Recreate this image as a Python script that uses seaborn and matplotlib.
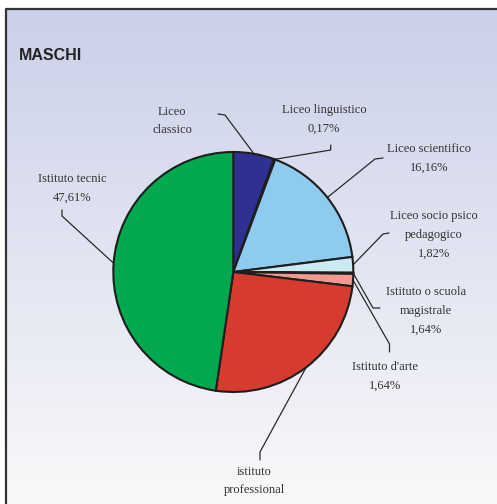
import numpy as np
import matplotlib
matplotlib.use("Agg")
import matplotlib.pyplot as plt
from matplotlib.colors import LinearSegmentedColormap
import seaborn as sns

# slice sizes (percent), clockwise from the top
categories = ["Liceo classico", "Liceo linguistico", "Liceo scientifico",
              "Liceo socio psico pedagogico", "Istituto o scuola magistrale",
              "Istituto d'arte", "istituto professional", "Istituto tecnic"]
values = [5.5, 0.17, 17.3, 2.1, 0.15, 1.65, 25.4, 47.61]
label_texts = ["Liceo\nclassico", "Liceo linguistico\n0,17%", "Liceo scientifico\n16,16%",
               "Liceo socio psico\npedagogico\n1,82%", "Istituto o scuola\nmagistrale\n1,64%",
               "Istituto d'arte\n1,64%", "istituto\nprofessional", "Istituto tecnic\n47,61%"]
colors = ["#2E3192", "#5A5FA8", "#8FCBEE", "#CBEAF4", "#E8C93A", "#F29A92", "#D73A2E", "#00A84F"]

W, H = 497, 504


def py(y):
    # pixel row (from top) -> data y
    return H - y


# label centre and leader elbow points (pixels, y from top)
label_pos = [(172, 121), (324, 119), (429, 158), (434, 235),
             (426, 311), (385, 376), (254, 481), (72, 188)]
leader_pts = [[(218, 114), (225, 115)],
              [(330.7, 145), (330.7, 150)],
              [(383, 158), (375, 159)],
              [(389, 233), (383, 234)],
              [(380, 308), (373, 308)],
              [(389.5, 352), (389.5, 344)],
              [(260, 460), (260, 452)],
              [(62, 210), (62, 216)]]


def main():
    sns.set_style("white")
    plt.rcParams['font.family'] = ['Liberation Serif', 'DejaVu Serif']

    fig = plt.figure(figsize=(W / 100, H / 100), dpi=100)
    ax = fig.add_axes([0, 0, 1, 1])

    # gradient panel + frame
    cmap = LinearSegmentedColormap.from_list("bg", ["#CBD0E9", "#F9F9FA"])
    grad = np.linspace(0, 1, 256).reshape(-1, 1)
    ax.imshow(grad, cmap=cmap, extent=(6, W, 0, py(9)), aspect='auto', zorder=0)
    ax.plot([6, 6, W], [0, py(9), py(9)], color="#333333", lw=1.6, zorder=1,
            solid_capstyle='projecting')

    cx, cy, r = 233.3, py(272), 120
    wedges, _ = ax.pie(values, colors=colors, startangle=90, counterclock=False,
                       center=(cx, cy), radius=r,
                       wedgeprops=dict(edgecolor="#1E1E1E", linewidth=1.5))
    for w in wedges:
        w.set_zorder(3)

    for w, txt, (lx, ly), pts in zip(wedges, label_texts, label_pos, leader_pts):
        mid = np.deg2rad((w.theta1 + w.theta2) / 2)
        ex, ey = cx + r * np.cos(mid), cy + r * np.sin(mid)
        xs = [p[0] for p in pts] + [ex]
        ys = [py(p[1]) for p in pts] + [ey]
        ax.plot(xs, ys, color="#2A2A2A", lw=0.9, zorder=2)
        ax.text(lx, py(ly), txt, ha='center', va='center', fontsize=9,
                color="#333333", linespacing=1.75, zorder=4)

    ax.text(19, py(56), "MASCHI", fontsize=11.5, fontweight='bold',
            family=['Liberation Sans', 'DejaVu Sans'], color="#222222",
            va='center', ha='left', zorder=4)

    ax.set_xlim(0, W)
    ax.set_ylim(0, H)
    ax.set_aspect('auto')
    ax.axis('off')
    fig.savefig("out.png", dpi=100)
    plt.close()


if __name__ == "__main__":
    main()
